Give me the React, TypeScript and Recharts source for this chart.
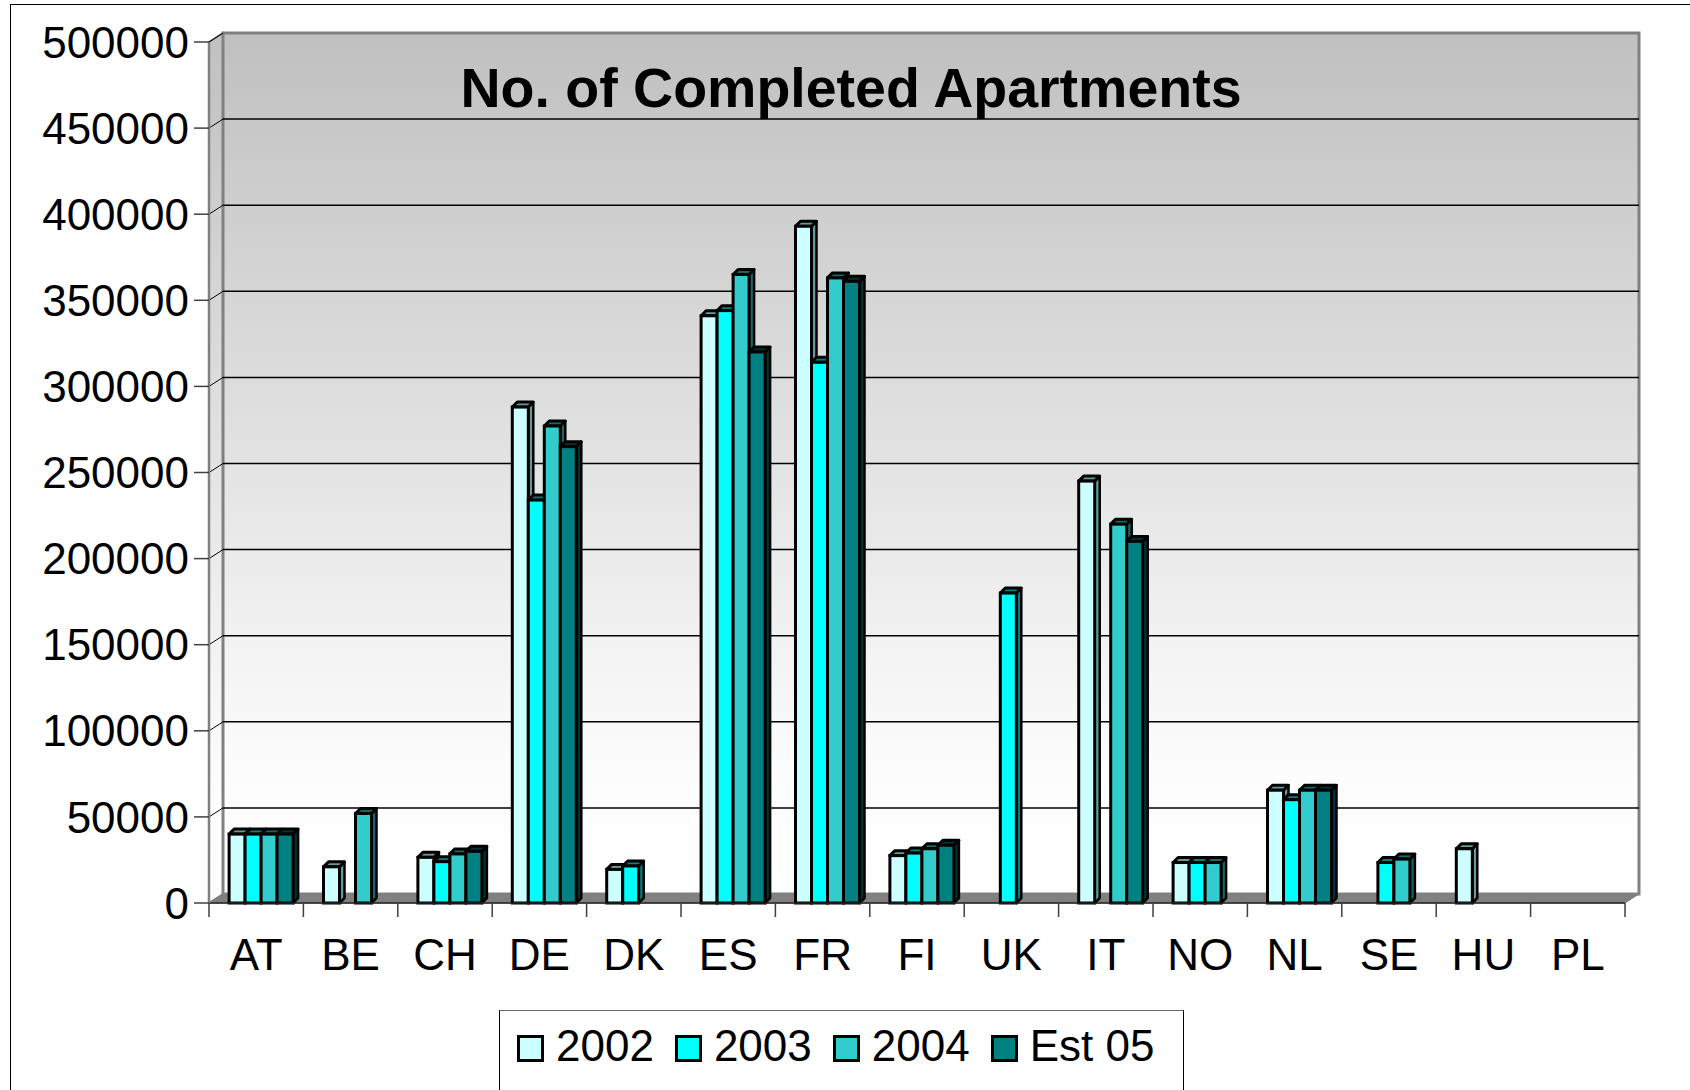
import React from 'react';
import { BarChart, Bar, XAxis, YAxis, Legend, ReferenceArea } from 'recharts';

// values (null = no bar)
const countries = ['AT', 'BE', 'CH', 'DE', 'DK', 'ES', 'FR', 'FI', 'UK', 'IT', 'NO', 'NL', 'SE', 'HU', 'PL'];
const values2002 = [40000, 21000, 26500, 288000, 19500, 341000, 393000, 27500, null, 245000, 23500, 65500, null, 31500, null];
const values2003 = [40000, null, 24000, 234000, 21500, 344000, 314000, 29000, 180000, null, 23500, 60000, 23500, null, null];
const values2004 = [40000, 52000, 28500, 277000, null, 365000, 363000, 31500, null, 220000, 23500, 65500, 25500, null, null];
const valuesEst05 = [40000, null, 30000, 265000, null, 320000, 361000, 33500, null, 210000, null, 65500, null, null, null];
const yTicks = [0, 50000, 100000, 150000, 200000, 250000, 300000, 350000, 400000, 450000, 500000];

const series = [
  { key: 'y2002', name: '2002', fill: '#CCFFFF', side: '#669999' },
  { key: 'y2003', name: '2003', fill: '#00FFFF', side: '#008080' },
  { key: 'y2004', name: '2004', fill: '#33CCCC', side: '#1A6666' },
  { key: 'est05', name: 'Est 05', fill: '#008080', side: '#003333' },
];

const data = countries.map((c, i) => ({
  country: c,
  y2002: values2002[i],
  y2003: values2003[i],
  y2004: values2004[i],
  est05: valuesEst05[i],
}));

const FONT = '"Liberation Sans", Arial, sans-serif';
const WX = 14; // wall depth
const WY = 9;
const BX = 5; // bar depth
const BY = 5;
const SHIFT = 5;

function Wall(props: any) {
  const { x, y, width, height } = props;
  if (x == null || y == null) return null;
  const bx = x + WX;
  const by = y - WY;
  const max = yTicks[yTicks.length - 1];
  const inner = yTicks.slice(1, -1).map((t) => y + height * (1 - t / max));
  const bottom = y + height;
  return (
    <g>
      <defs>
        <linearGradient id="wallGrad" x1="0" y1="0" x2="0" y2="1">
          <stop offset="0" stopColor="#c0c0c0" />
          <stop offset="0.85" stopColor="#fcfcfc" />
          <stop offset="1" stopColor="#ffffff" />
        </linearGradient>
      </defs>
      <polygon
        points={`${x},${y} ${bx},${by} ${bx},${bottom - WY} ${x},${bottom}`}
        fill="url(#wallGrad)"
        stroke="#808080"
        strokeWidth={2}
      />
      <rect x={bx} y={by} width={width} height={height} fill="url(#wallGrad)" stroke="#808080" strokeWidth={3} />
      {inner.map((ly, i) => (
        <g key={i}>
          <line x1={x} y1={ly} x2={bx} y2={ly - WY} stroke="#000" strokeWidth={1} />
          <line x1={bx} y1={ly - WY} x2={bx + width} y2={ly - WY} stroke="#000" strokeWidth={1.5} />
        </g>
      ))}
      <line x1={x} y1={y} x2={bx} y2={by} stroke="#000" strokeWidth={1} />
      <polygon
        points={`${x},${bottom} ${bx},${bottom - WY} ${bx + width},${bottom - WY} ${x + width},${bottom}`}
        fill="#808080"
        stroke="#808080"
        strokeWidth={1}
      />
    </g>
  );
}

function Bar3D(props: any) {
  const { x, y, width, height, fill, side, value } = props;
  if (value == null || x == null || !height || height <= 0) return null;
  const X = x + SHIFT;
  const b = y + height;
  return (
    <g>
      <polygon
        points={`${X + width},${y} ${X + width + BX},${y - BY} ${X + width + BX},${b - BY} ${X + width},${b}`}
        fill={side}
        stroke="#000"
        strokeWidth={2.5}
        strokeLinejoin="round"
      />
      <polygon
        points={`${X},${y} ${X + BX},${y - BY} ${X + width + BX},${y - BY} ${X + width},${y}`}
        fill={side}
        stroke="#000"
        strokeWidth={3}
        strokeLinejoin="round"
      />
      <rect x={X} y={y} width={width} height={height} fill={fill} stroke="#000" strokeWidth={3} />
    </g>
  );
}

function CategoryTick(props: any) {
  const { x, y, payload, index } = props;
  const half = payload && payload.offset ? payload.offset : 47;
  return (
    <g>
      <line x1={x - half} x2={x - half} y1={y} y2={y + 14} stroke="#404040" strokeWidth={1.5} />
      {index === countries.length - 1 && (
        <line x1={x + half} x2={x + half} y1={y} y2={y + 14} stroke="#404040" strokeWidth={1.5} />
      )}
      <text x={x} y={y + 67} textAnchor="middle" fontSize={44} fontFamily={FONT} fill="#000">
        {payload.value}
      </text>
    </g>
  );
}

function LegendBox() {
  return (
    <div
      style={{
        boxSizing: 'border-box',
        width: 685,
        height: 100,
        border: '1.5px solid #000',
        borderTopColor: '#666',
        background: '#fff',
        display: 'flex',
        alignItems: 'center',
        paddingLeft: 17,
        paddingBottom: 28,
        fontFamily: FONT,
        fontSize: 44,
        color: '#000',
      }}
    >
      {series.map((s) => (
        <div key={s.key} style={{ display: 'flex', alignItems: 'center', marginRight: 21 }}>
          <span
            style={{
              display: 'inline-block',
              boxSizing: 'border-box',
              width: 27,
              height: 27,
              background: s.fill,
              border: '3px solid #000',
              marginRight: 12,
              marginTop: 4,
            }}
          />
          <span style={{ lineHeight: '50px' }}>{s.name}</span>
        </div>
      ))}
    </div>
  );
}

export default function App() {
  return (
    <div style={{ position: 'absolute', left: 0, top: 0, width: 1690, height: 1090, overflow: 'hidden', background: '#fff' }}>
      <div
        style={{
          position: 'absolute',
          left: 10,
          top: 4,
          width: 1700,
          height: 1120,
          border: '1.5px solid #000',
        }}
      />
      <div style={{ position: 'absolute', left: 0, top: 0 }}>
        <BarChart
          width={1690}
          height={1090}
          data={data}
          margin={{ top: 42, right: 65, bottom: 107, left: 0 }}
          barCategoryGap="16%"
          barGap={0}
        >
          <ReferenceArea y1={0} y2={500000} shape={<Wall />} ifOverflow="visible" zIndex={-50} />
          <XAxis
            dataKey="country"
            height={80}
            tickSize={0}
            tickMargin={0}
            interval={0}
            axisLine={{ stroke: '#222', strokeWidth: 1.5 }}
            tick={<CategoryTick />}
          />
          <YAxis
            width={209}
            domain={[0, 500000]}
            ticks={yTicks}
            interval={0}
            tickSize={15}
            tickMargin={5}
            axisLine={{ stroke: '#808080', strokeWidth: 2.5 }}
            tickLine={{ stroke: '#404040', strokeWidth: 1.5 }}
            tick={{ fontSize: 44, fontFamily: FONT, fill: '#000' }}
          />
          {series.map((s) => (
            <Bar
              key={s.key}
              dataKey={s.key}
              name={s.name}
              fill={s.fill}
              isAnimationActive={false}
              shape={(p: any) => <Bar3D {...p} side={s.side} />}
            />
          ))}
          <Legend
            layout="horizontal"
            align="center"
            verticalAlign="middle"
            content={() => <LegendBox />}
            wrapperStyle={{ position: 'absolute', left: 499, top: 1010, width: 685, height: 100 }}
          />
        </BarChart>
      </div>
      <div
        style={{
          position: 'absolute',
          left: 451,
          top: 58,
          width: 800,
          textAlign: 'center',
          fontFamily: FONT,
          fontWeight: 'bold',
          fontSize: 55.5,
          lineHeight: '60px',
          color: '#000',
          whiteSpace: 'nowrap',
        }}
      >
        No. of Completed Apartments
      </div>
    </div>
  );
}
